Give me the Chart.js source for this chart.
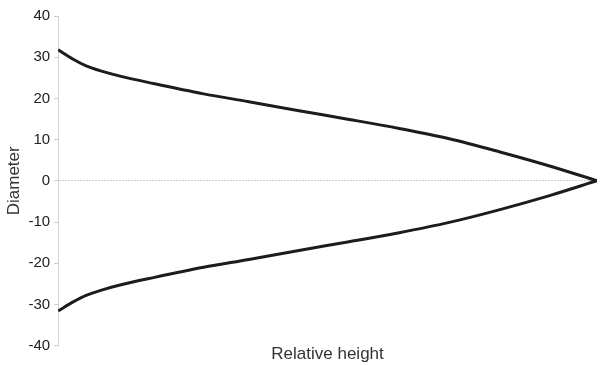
<!DOCTYPE html>
<html>
<head>
<meta charset="utf-8">
<script src="https://cdn.jsdelivr.net/npm/chart.js@4"></script>
<style>
  html, body { margin: 0; padding: 0; background: #fff; }
  #wrap { width: 600px; height: 365px; }
</style>
</head>
<body>
<div id="wrap"><canvas id="chart"></canvas></div>
<script>
// Relative height along the profile (0 = base, 1 = tip)
const relHeight = [0, 0.028, 0.052, 0.084, 0.115, 0.177, 0.27, 0.354, 0.447, 0.54, 0.633, 0.726, 0.82, 0.912, 1];
// Diameter values, upper and lower outline
const upperDiameter = [31.8, 29.5, 27.9, 26.5, 25.4, 23.6, 21.1, 19.2, 17.0, 14.9, 12.7, 10.2, 7.0, 3.6, 0];
const lowerDiameter = [-31.6, -29.4, -27.8, -26.4, -25.3, -23.5, -21.0, -19.1, -16.9, -14.8, -12.6, -10.1, -7.0, -3.6, 0];
const yTicks = [-40, -30, -20, -10, 0, 10, 20, 30, 40];

Chart.defaults.font.family = "'Liberation Sans', Arial, sans-serif";

const toPoints = (xs, ys) => xs.map((x, i) => ({ x: x, y: ys[i] }));

const lineStyle = {
    borderColor: '#1c1c1c',
    borderWidth: 3,
    pointRadius: 0,
    cubicInterpolationMode: 'monotone',
    fill: false
};

new Chart(document.getElementById('chart'), {
    type: 'line',
    data: {
        datasets: [
            Object.assign({ label: 'Upper', data: toPoints(relHeight, upperDiameter) }, lineStyle),
            Object.assign({ label: 'Lower', data: toPoints(relHeight, lowerDiameter) }, lineStyle)
        ]
    },
    options: {
        responsive: true,
        maintainAspectRatio: false,
        animation: false,
        layout: { padding: { top: 16, right: 3, left: 4, bottom: 0 } },
        plugins: { legend: { display: false }, tooltip: { enabled: false } },
        scales: {
            x: {
                type: 'linear',
                min: 0,
                max: 1,
                ticks: { display: false },
                grid: { display: false },
                border: { display: false },
                title: {
                    display: true,
                    text: 'Relative height',
                    color: '#333',
                    font: { size: 17 },
                    padding: { top: -9, bottom: 0 }
                }
            },
            y: {
                min: -40,
                max: 40,
                afterBuildTicks: axis => { axis.ticks = yTicks.map(v => ({ value: v })); },
                ticks: { color: '#222', font: { size: 15 }, padding: 4 },
                grid: {
                    color: ctx => (ctx.tick && ctx.tick.value === 0) ? '#d0d0d0' : 'rgba(0,0,0,0)',
                    tickColor: '#ccc',
                    tickLength: 4,
                    lineWidth: 1
                },
                border: { display: true, color: '#d4d4d4', dash: [2, 1] },
                title: {
                    display: true,
                    text: 'Diameter',
                    color: '#333',
                    font: { size: 17 },
                    padding: { top: 0, bottom: 0 }
                }
            }
        }
    }
});
</script>
</body>
</html>
